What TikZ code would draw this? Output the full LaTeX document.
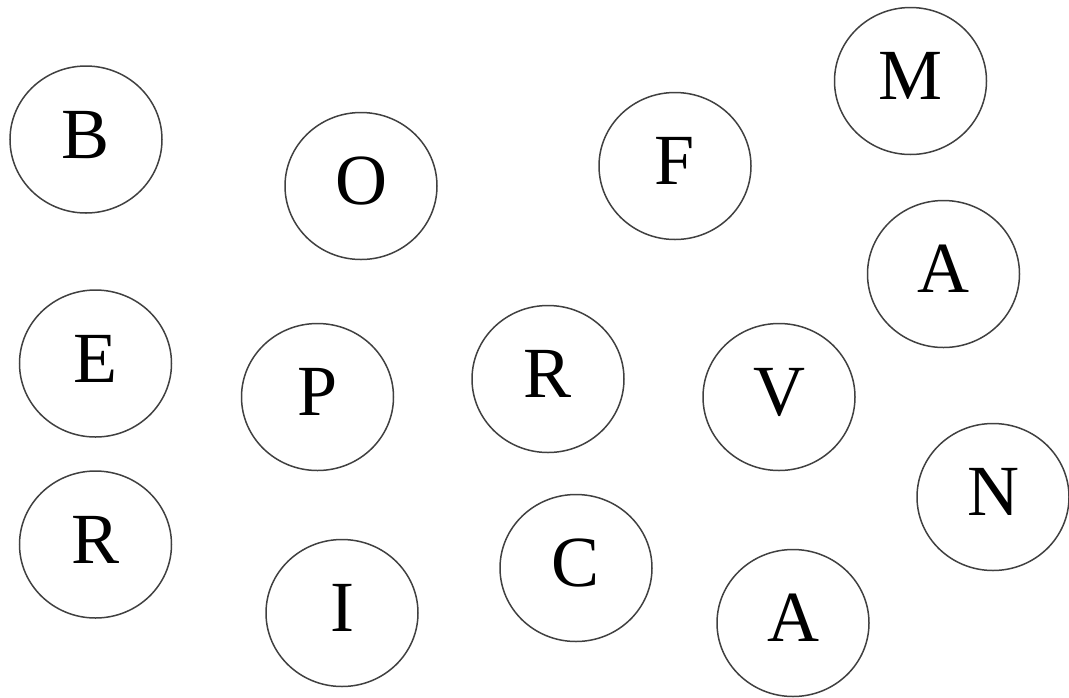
\documentclass[tikz,border=0pt]{standalone}
\usepackage{fontspec}
\setmainfont{Liberation Serif}
\usetikzlibrary{shapes.geometric}
\begin{document}
\begin{tikzpicture}[x=1pt,y=-1pt,
  letterbox/.style={ellipse,draw=black!75,line width=1.5pt,minimum width=152pt,minimum height=147pt,inner sep=0pt,
    font=\fontsize{72}{72}\selectfont}]
\useasboundingbox (0,0) rectangle (1069,697);
\node[letterbox] (b) at (86,139.5) {\raisebox{10pt}{B}};
\node[letterbox] (o) at (361,186) {\raisebox{10pt}{O}};
\node[letterbox] (f) at (675,166) {\raisebox{10pt}{F}};
\node[letterbox] (m) at (910.5,81) {\raisebox{10pt}{M}};
\node[letterbox] (a1) at (943.5,274) {\raisebox{10pt}{A}};
\node[letterbox] (e) at (95.5,363.5) {\raisebox{10pt}{E}};
\node[letterbox] (p) at (317.5,397) {\raisebox{10pt}{P}};
\node[letterbox] (r1) at (548,379) {\raisebox{10pt}{R}};
\node[letterbox] (v) at (779,397) {\raisebox{10pt}{V}};
\node[letterbox] (n) at (993,497) {\raisebox{10pt}{N}};
\node[letterbox] (r2) at (95.5,544.5) {\raisebox{10pt}{R}};
\node[letterbox] (i) at (342,613) {\raisebox{10pt}{I}};
\node[letterbox] (c) at (576,568) {\raisebox{10pt}{C}};
\node[letterbox] (a2) at (793,623) {\raisebox{10pt}{A}};
\end{tikzpicture}
\end{document}
